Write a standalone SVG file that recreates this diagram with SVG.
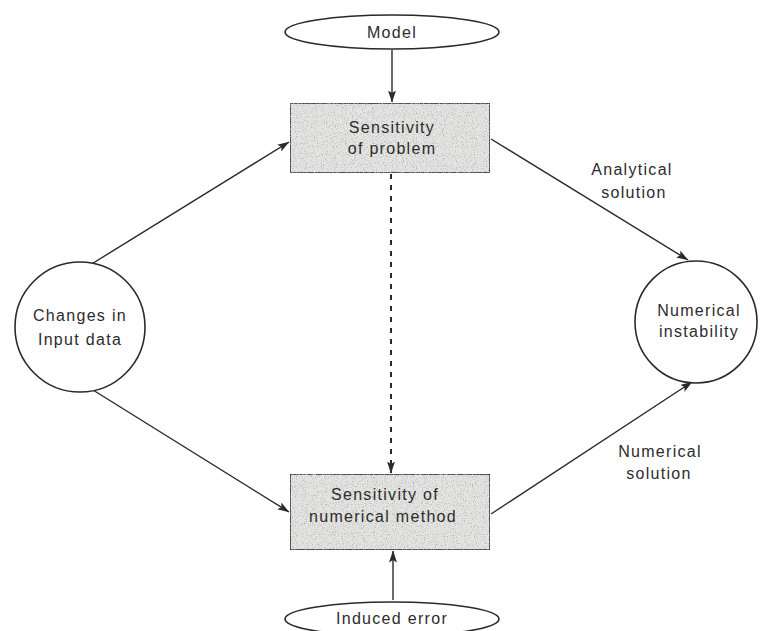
<svg xmlns="http://www.w3.org/2000/svg" width="764" height="631" viewBox="0 0 764 631">
  <style>
    .shape { fill: #ffffff; stroke: #2a2a2a; stroke-width: 1.6; }
    .box { fill: #e4e4e2; stroke: #2a2a2a; stroke-width: 1.6; }
    .label { font-family: "Liberation Sans", Arial, sans-serif; font-size: 16px; fill: #2c2c2c; text-anchor: middle; letter-spacing: 1.3px; }
    .edge { stroke: #2a2a2a; stroke-width: 1.4; fill: none; marker-end: url(#arrow); }
    .dashed { stroke-dasharray: 5 6; stroke-width: 2; }
  </style>
  <defs>
    <marker id="arrow" viewBox="0 0 12 8" refX="11.5" refY="4" markerWidth="12" markerHeight="8" markerUnits="userSpaceOnUse" orient="auto">
      <path d="M0,0 L12,4 L0,8 L2.5,4 Z" fill="#2a2a2a"/>
    </marker>
    <!-- speckled grey texture for the two process boxes -->
    <filter id="grain" x="0" y="0" width="100%" height="100%">
      <feTurbulence type="fractalNoise" baseFrequency="0.9" numOctaves="2" seed="4" result="noise"/>
      <feColorMatrix in="noise" type="matrix" values="0 0 0 0 0.45  0 0 0 0 0.45  0 0 0 0 0.45  0 0 0 3.2 -1.6" result="dots"/>
      <feComposite in="dots" in2="SourceGraphic" operator="in" result="clipped"/>
      <feMerge>
        <feMergeNode in="SourceGraphic"/>
        <feMergeNode in="clipped"/>
      </feMerge>
    </filter>
  </defs>

  <g id="connectors">
    <line class="edge" x1="392" y1="50" x2="392" y2="102"/>
    <line class="edge" x1="393" y1="600" x2="393" y2="551"/>
    <line class="edge dashed" x1="391" y1="174" x2="391" y2="473"/>
    <line class="edge" x1="90" y1="265" x2="289" y2="142"/>
    <line class="edge" x1="93" y1="390" x2="289" y2="512"/>
    <line class="edge" x1="491" y1="139" x2="688" y2="260"/>
    <line class="edge" x1="491" y1="514" x2="692" y2="382"/>
  </g>

  <g id="model">
    <ellipse class="shape" cx="392" cy="32" rx="107" ry="17"/>
    <text class="label" x="392" y="38">Model</text>
  </g>

  <g id="sensitivity-problem">
    <rect class="box" x="290" y="103" width="200" height="70" filter="url(#grain)"/>
    <text class="label" x="392" y="133">Sensitivity</text>
    <text class="label" x="392" y="154">of problem</text>
  </g>

  <g id="sensitivity-method">
    <rect class="box" x="290" y="474" width="200" height="76" filter="url(#grain)"/>
    <text class="label" x="385" y="500">Sensitivity of</text>
    <text class="label" x="383" y="522">numerical method</text>
  </g>

  <g id="induced-error">
    <ellipse class="shape" cx="392" cy="619" rx="107" ry="17"/>
    <text class="label" x="392" y="624">Induced error</text>
  </g>

  <g id="input-changes">
    <circle class="shape" cx="80" cy="327" r="65"/>
    <text class="label" x="80" y="321">Changes in</text>
    <text class="label" x="80" y="345">Input data</text>
  </g>

  <g id="numerical-instability">
    <circle class="shape" cx="696" cy="322" r="61"/>
    <text class="label" x="699" y="316">Numerical</text>
    <text class="label" x="699" y="337">instability</text>
  </g>

  <g id="edge-labels">
    <text class="label" x="632" y="175">Analytical</text>
    <text class="label" x="634" y="198">solution</text>
    <text class="label" x="660" y="457">Numerical</text>
    <text class="label" x="659" y="479">solution</text>
  </g>
</svg>
